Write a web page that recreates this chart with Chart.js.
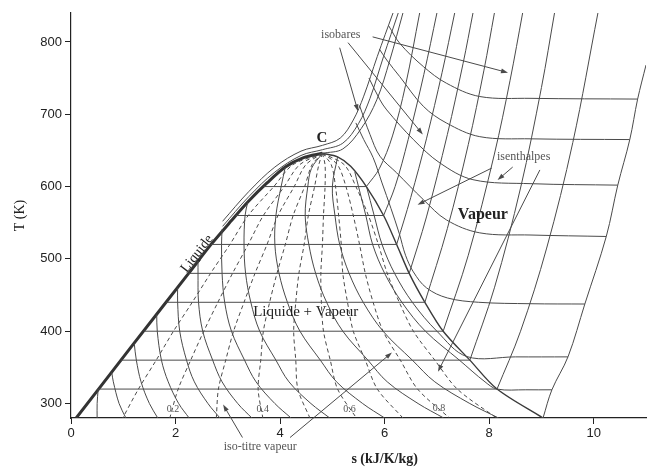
<!DOCTYPE html>
<html>
<head>
<meta charset="utf-8">
<script src="https://cdn.jsdelivr.net/npm/chart.js@4.4.1/dist/chart.umd.min.js"></script>
<style>
  html, body { margin: 0; padding: 0; background: #fff; }
  canvas { display: block; }
</style>
</head>
<body>
<canvas id="ts" width="655" height="471"></canvas>
<script>
// axes
const xTicks = [0, 2, 4, 6, 8, 10];
const yTicks = [300, 400, 500, 600, 700, 800];

// saturation dome, [s, T]
const satLiquid = [[0.1, 280], [1.17, 380], [2.25, 480], [2.68, 520], [3.07, 553], [3.4, 580], [3.75, 605], [4.1, 627], [4.45, 640], [4.81, 646]];
const satVapor = [[4.81, 646], [5.1, 641], [5.35, 628], [5.65, 600], [5.98, 560], [6.23, 520], [6.47, 480], [6.77, 440], [7.12, 400], [7.63, 360], [8.15, 320], [9.03, 280]];

// isobars inside the dome (horizontal)
const plateauT = [320, 360, 400, 440, 480, 520, 560, 600];
const plateauSf = [0.53, 0.96, 1.39, 1.82, 2.25, 2.68, 3.15, 3.68];
const plateauSg = [8.15, 7.63, 7.12, 6.77, 6.47, 6.23, 5.98, 5.65];

// isobars in the vapour zone
const vaporIsobars = [
  [[9.03, 280], [9.2, 319], [9.51, 365], [9.83, 437.6], [10.24, 531], [10.46, 602], [10.69, 665], [10.84, 721], [11.0, 768]],
  [[8.15, 320], [8.6, 400], [9.1, 515], [9.6, 661], [10.08, 840]],
  [[7.63, 360], [8.1, 460], [8.6, 598], [9.0, 737], [9.25, 840]],
  [[7.12, 400], [7.6, 505], [8.1, 645], [8.4, 747], [8.64, 840]],
  [[6.77, 440], [7.2, 542], [7.6, 658], [7.9, 761], [8.1, 840]],
  [[6.47, 480], [6.8, 558], [7.2, 672], [7.5, 770], [7.69, 840]],
  [[6.23, 520], [6.5, 585], [6.8, 666], [7.1, 758], [7.34, 840]],
  [[5.98, 560], [6.2, 600], [6.45, 665], [6.75, 755], [7.0, 840]],
  [[5.65, 600], [5.9, 625], [6.15, 670], [6.4, 740], [6.67, 840]]
];

// critical and supercritical isobars
const superIsobars = [
  [[4.81, 646], [5.2, 652], [5.55, 680], [5.85, 720], [6.1, 775], [6.35, 840]],
  [[2.9, 545], [3.4, 586], [3.9, 620], [4.4, 643], [4.81, 651], [5.2, 660], [5.5, 687], [5.72, 722], [5.98, 780], [6.26, 840]],
  [[2.9, 552], [3.4, 593], [3.9, 627], [4.4, 649], [4.81, 657], [5.15, 667], [5.4, 692], [5.6, 725], [5.86, 780], [6.16, 840]]
];

// isenthalps crossing the wet zone
const wetIsenthalps = [
  [[0.52, 320], [0.5, 300], [0.5, 280]],
  [[0.78, 343], [0.81, 330], [0.92, 300], [1.05, 280]],
  [[1.21, 383], [1.25, 360], [1.34, 330], [1.5, 300], [1.66, 280]],
  [[1.64, 423], [1.65, 400], [1.73, 360], [1.86, 330], [2.06, 300], [2.26, 280]],
  [[2.04, 460], [2.04, 440], [2.08, 400], [2.21, 360], [2.36, 330], [2.62, 300], [2.85, 280]],
  [[2.43, 497], [2.43, 480], [2.44, 440], [2.52, 400], [2.71, 360], [2.89, 330], [3.19, 300], [3.46, 280]],
  [[2.89, 541], [2.88, 520], [2.89, 480], [2.94, 440], [3.07, 400], [3.32, 360], [3.54, 330], [3.9, 300], [4.21, 280]],
  [[3.38, 578], [3.33, 560], [3.31, 520], [3.34, 480], [3.44, 440], [3.61, 400], [3.92, 360], [4.17, 330], [4.59, 300], [4.95, 280]],
  [[4.1, 627], [4.02, 600], [3.92, 560], [3.9, 520], [3.98, 480], [4.14, 440], [4.38, 400], [4.77, 360], [5.08, 330], [5.58, 300], [6.0, 280]],
  [[4.81, 646], [4.6, 625], [4.53, 600], [4.48, 560], [4.55, 520], [4.68, 480], [4.89, 440], [5.2, 400], [5.68, 360], [6.05, 330], [6.64, 300], [7.13, 280]],
  [[5.1, 641], [5.0, 600], [5.05, 560], [5.14, 520], [5.32, 480], [5.59, 440], [5.97, 400], [6.53, 360], [6.96, 330], [7.63, 300], [8.18, 280]],
  [[5.43, 620], [5.5, 600], [5.64, 560], [5.77, 520], [6.0, 480], [6.33, 440], [6.78, 400], [7.43, 360], [7.92, 330], [8.15, 320], [8.7, 319], [9.2, 319]],
  [[5.65, 601], [5.8, 560], [5.95, 520], [6.19, 480], [6.53, 440], [7.0, 400], [7.57, 365], [8.5, 364.5], [9.51, 364.5]]
];

// isenthalps in the vapour zone
const vaporIsenthalps = [
  [[9.83, 437.6], [8.8, 438], [7.8, 440], [7.2, 446], [6.8, 460], [6.55, 482], [6.4, 505], [6.28, 535], [6.12, 570], [5.95, 605], [5.78, 640], [5.6, 665], [5.45, 688]],
  [[10.24, 531], [8.8, 533], [7.82, 536], [7.18, 554], [6.74, 582], [6.23, 619], [5.91, 642], [5.72, 672], [5.52, 712]],
  [[10.46, 602], [8.8, 604], [7.69, 609.5], [7.06, 632.5], [6.55, 665], [6.04, 706], [5.91, 720], [5.7, 750]],
  [[10.69, 665], [8.8, 666], [7.82, 669], [7.18, 688], [6.74, 711], [6.29, 752], [6.04, 775], [5.9, 790]],
  [[10.84, 721], [8.8, 722], [7.82, 724.5], [7.18, 743], [6.74, 766], [6.29, 798], [6.08, 822]]
];

// iso-titre lines (x = 0.1 ... 0.9): s at each temperature of qualityT
const qualityT = [646, 630, 600, 560, 520, 480, 440, 400, 360, 320, 280];
const qualityS = [
  [4.81, 4.24, 3.88, 3.39, 3.04, 2.67, 2.32, 1.96, 1.63, 1.29, 0.99],
  [4.81, 4.37, 4.08, 3.68, 3.39, 3.09, 2.81, 2.54, 2.29, 2.05, 1.89],
  [4.81, 4.49, 4.27, 3.96, 3.75, 3.52, 3.31, 3.11, 2.96, 2.82, 2.78],
  [4.81, 4.61, 4.47, 4.25, 4.10, 3.94, 3.80, 3.68, 3.63, 3.58, 3.67],
  [4.81, 4.74, 4.66, 4.54, 4.46, 4.36, 4.30, 4.26, 4.30, 4.34, 4.57],
  [4.81, 4.86, 4.86, 4.83, 4.81, 4.78, 4.79, 4.83, 4.96, 5.10, 5.46],
  [4.81, 4.98, 5.06, 5.12, 5.17, 5.20, 5.29, 5.40, 5.63, 5.86, 6.35],
  [4.81, 5.10, 5.26, 5.40, 5.52, 5.63, 5.78, 5.97, 6.30, 6.63, 7.24],
  [4.81, 5.23, 5.45, 5.69, 5.88, 6.05, 6.28, 6.55, 6.96, 7.39, 8.14]
];
const qualityLabels = ['0.2', '0.4', '0.6', '0.8'];
const qualityLabelS = [1.95, 3.67, 5.33, 7.04];
const qualityLabelT = [291.6, 291.6, 291.6, 294];

// annotations: [text, s, T]
const notesText = [
  ['isobares', 5.16, 810],
  ['isenthalpes', 8.66, 641],
  ['iso-titre vapeur', 3.62, 240]
];
// arrows: [s0, T0, s1, T1]
const arrows = [
  [5.14, 792, 5.49, 704],
  [5.30, 799, 6.73, 672],
  [5.77, 807, 8.36, 757.5],
  [8.05, 625.6, 6.63, 575],
  [8.45, 627, 8.16, 609],
  [8.97, 623, 7.02, 344],
  [3.28, 253, 2.91, 298.5],
  [4.19, 253, 6.14, 370.5]
];

const LINE = '#4a4a4a';
const pts = arr => arr.map(([s, T]) => ({ x: s, y: T }));
function curve(arr, extra) {
  return Object.assign({
    data: pts(arr), showLine: true, pointRadius: 0, borderColor: LINE,
    borderWidth: 1, tension: 0.35, fill: false
  }, extra || {});
}

const datasets = [];
plateauT.forEach((T, i) => datasets.push(curve([[plateauSf[i], T], [plateauSg[i], T]], { tension: 0 })));
vaporIsobars.forEach(a => datasets.push(curve(a)));
superIsobars.forEach(a => datasets.push(curve(a)));
wetIsenthalps.forEach(a => datasets.push(curve(a)));
vaporIsenthalps.forEach(a => datasets.push(curve(a)));
qualityS.forEach(sl => datasets.push(curve(sl.map((s, i) => [s, qualityT[i]]), { borderDash: [4, 3], tension: 0.3 })));
datasets.push(curve(satVapor, { borderColor: '#3a3a3a', borderWidth: 1.4, tension: 0.3 }));
datasets.push(curve(satLiquid, { borderColor: '#333', borderWidth: 3, tension: 0.3 }));

const SERIF = '"Liberation Serif", "Times New Roman", serif';

const notes = {
  id: 'notes',
  afterDatasetsDraw(chart) {
    const { ctx, chartArea, scales: { x, y } } = chart;
    const px = s => x.getPixelForValue(s);
    const py = T => y.getPixelForValue(T);
    ctx.save();

    // arrows
    ctx.strokeStyle = LINE;
    ctx.fillStyle = LINE;
    ctx.lineWidth = 1;
    arrows.forEach(([s0, T0, s1, T1]) => {
      const x0 = px(s0), y0 = py(T0), x1 = px(s1), y1 = py(T1);
      const a = Math.atan2(y1 - y0, x1 - x0);
      const c = Math.cos(a), sn = Math.sin(a);
      ctx.beginPath();
      ctx.moveTo(x0, y0);
      ctx.lineTo(x1 - 5 * c, y1 - 5 * sn);
      ctx.stroke();
      ctx.beginPath();
      ctx.moveTo(x1, y1);
      ctx.lineTo(x1 - 7 * c + 2.4 * sn, y1 - 7 * sn - 2.4 * c);
      ctx.lineTo(x1 - 7 * c - 2.4 * sn, y1 - 7 * sn + 2.4 * c);
      ctx.closePath();
      ctx.fill();
    });

    ctx.textAlign = 'center';
    ctx.textBaseline = 'middle';

    // small grey notes
    ctx.fillStyle = '#555';
    ctx.font = '12px ' + SERIF;
    notesText.forEach(([t, s, T]) => ctx.fillText(t, px(s), py(T)));

    ctx.font = '10px ' + SERIF;
    qualityLabels.forEach((t, i) => ctx.fillText(t, px(qualityLabelS[i]), py(qualityLabelT[i])));

    // zone names
    ctx.fillStyle = '#222';
    ctx.font = '15px ' + SERIF;
    ctx.fillText('Liquide + Vapeur', px(4.49), py(426));
    ctx.font = 'bold 16px ' + SERIF;
    ctx.fillText('Vapeur', px(7.88), py(561));
    ctx.font = 'bold 15px ' + SERIF;
    ctx.fillText('C', px(4.8), py(667));

    ctx.save();
    ctx.translate(px(2.41), py(507));
    ctx.rotate(-52 * Math.PI / 180);
    ctx.font = '14px ' + SERIF;
    ctx.fillText('Liquide', 0, 0);
    ctx.restore();

    // axis titles
    ctx.fillStyle = '#222';
    ctx.font = 'bold 14px ' + SERIF;
    ctx.fillText('s (kJ/K/kg)', px(6.0), chartArea.bottom + 41);
    ctx.save();
    ctx.translate(20, (chartArea.top + chartArea.bottom) / 2);
    ctx.rotate(-Math.PI / 2);
    ctx.font = '14px ' + SERIF;
    ctx.fillText('T (K)', 0, 0);
    ctx.restore();

    ctx.restore();
  }
};

const tickFont = { family: '"Liberation Sans", Arial, sans-serif', size: 13 };

const config = {
  type: 'scatter',
  data: { datasets },
  options: {
    responsive: false,
    animation: false,
    layout: { padding: { top: 13, right: 9, left: 0, bottom: 0 } },
    plugins: { legend: { display: false }, tooltip: { enabled: false } },
    scales: {
      x: {
        type: 'linear', min: 0, max: 11,
        afterBuildTicks: s => { s.ticks = xTicks.map(v => ({ value: v })); },
        afterFit: s => { s.height = 53; },
        ticks: { color: '#222', font: tickFont, padding: 2, maxRotation: 0 },
        grid: { drawOnChartArea: false, drawTicks: true, tickLength: 6, color: '#222' },
        border: { display: true, color: '#222', width: 1.2 }
      },
      y: {
        type: 'linear', min: 280, max: 840,
        afterBuildTicks: s => { s.ticks = yTicks.map(v => ({ value: v })); },
        afterFit: s => { s.width = 71; },
        ticks: { color: '#222', font: tickFont, padding: 3 },
        grid: { drawOnChartArea: false, drawTicks: true, tickLength: 6, color: '#222' },
        border: { display: true, color: '#222', width: 1.2 }
      }
    }
  },
  plugins: [notes]
};

const chart = new Chart(document.getElementById('ts'), config);
</script>
</body>
</html>
